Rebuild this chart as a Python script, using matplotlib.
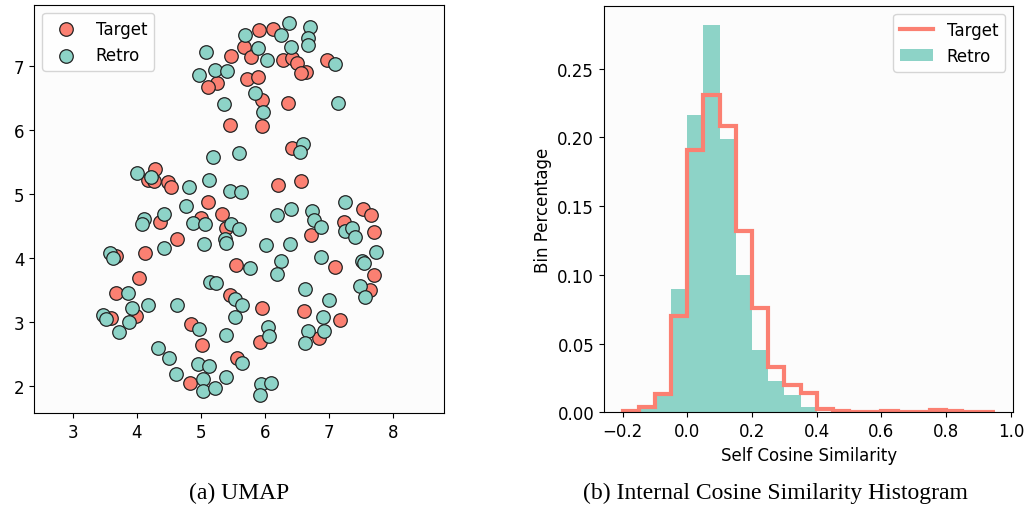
import numpy as np
import matplotlib
matplotlib.use('Agg')
import matplotlib.pyplot as plt

# UMAP coordinates
target_x = [5.48, 5.68, 5.25, 5.12, 5.72, 5.46, 4.29, 4.17, 4.27, 4.49, 4.54, 5.11,
            5.91, 6.13, 5.78, 6.28, 6.43, 6.51, 6.65, 6.57, 6.97, 5.90, 5.95, 5.96,
            6.36, 6.43, 6.21, 6.57, 7.53, 7.66, 5.34, 5.00, 5.40, 4.36, 4.63, 4.13,
            3.67, 5.55, 4.03, 3.68, 5.45, 7.24, 7.71, 6.72, 7.10, 7.71, 7.65, 3.59,
            3.99, 4.85, 5.02, 5.56, 4.83, 6.62, 7.18, 6.85, 5.96, 5.93]
target_y = [7.16, 7.31, 6.74, 6.68, 6.81, 6.09, 5.39, 5.22, 5.21, 5.20, 5.11, 4.88,
            7.57, 7.59, 7.14, 7.10, 7.13, 7.05, 6.91, 6.90, 7.10, 6.84, 6.48, 6.07,
            6.42, 5.73, 5.15, 5.21, 4.77, 4.67, 4.69, 4.63, 4.47, 4.57, 4.30, 4.08,
            4.04, 3.90, 3.70, 3.46, 3.43, 4.57, 4.41, 4.36, 3.86, 3.74, 3.51, 3.06,
            3.10, 2.97, 2.65, 2.44, 2.05, 3.17, 3.03, 2.75, 3.23, 2.69]

retro_x = [5.08, 5.69, 4.98, 5.22, 5.41, 5.37, 5.60, 5.19, 4.00, 4.23, 4.82, 5.13,
           5.45, 5.63, 4.77, 6.38, 6.71, 6.26, 6.68, 6.68, 5.90, 6.41, 6.03, 7.10,
           5.85, 5.98, 7.14, 6.60, 6.55, 7.25, 6.41, 6.74, 4.88, 5.06, 5.47, 5.60,
           4.11, 4.08, 4.43, 4.42, 5.05, 5.38, 5.40, 3.58, 3.63, 5.77, 3.86, 5.15,
           5.24, 5.54, 6.19, 6.77, 6.88, 7.25, 7.36, 7.41, 6.02, 6.40, 6.25, 6.88,
           7.74, 7.52, 7.55, 6.19, 6.63, 7.49, 7.56, 7.00, 3.47, 3.52, 3.92, 3.88,
           3.72, 4.18, 4.63, 4.97, 5.39, 5.65, 5.54, 5.65, 4.34, 4.51, 4.61, 4.95,
           5.13, 5.03, 5.03, 5.22, 5.39, 6.91, 6.92, 6.67, 6.63, 6.05, 6.06, 5.94,
           6.10, 5.93]
retro_y = [7.23, 7.49, 6.86, 6.95, 6.92, 6.41, 5.65, 5.58, 5.33, 5.27, 5.12, 5.22,
           5.05, 5.04, 4.82, 7.68, 7.61, 7.49, 7.45, 7.33, 7.28, 7.31, 7.10, 7.03,
           6.58, 6.28, 6.43, 5.79, 5.66, 4.88, 4.77, 4.74, 4.55, 4.54, 4.54, 4.46,
           4.61, 4.53, 4.70, 4.16, 4.22, 4.30, 4.24, 4.09, 4.00, 3.85, 3.46, 3.63,
           3.61, 3.36, 4.67, 4.60, 4.49, 4.43, 4.47, 4.34, 4.21, 4.22, 3.96, 4.02,
           4.10, 3.96, 3.93, 3.75, 3.52, 3.56, 3.40, 3.35, 3.12, 3.05, 3.22, 3.01,
           2.85, 3.27, 3.27, 2.90, 2.80, 3.27, 3.09, 2.36, 2.60, 2.45, 2.20, 2.35,
           2.32, 2.11, 1.93, 1.98, 2.14, 3.08, 2.86, 2.86, 2.68, 2.92, 2.79, 2.04,
           2.05, 1.87]

# histogram: bins of 0.05 from -0.2 to 0.95
bin_edges = np.round(np.arange(-0.2, 0.951, 0.05), 2)
target_hist = [0.001, 0.004, 0.013, 0.070, 0.191, 0.231, 0.208, 0.132, 0.076, 0.033,
               0.020, 0.014, 0.0024, 0.0012, 0.0005, 0.0005, 0.001, 0.0005, 0.0005,
               0.0015, 0.001, 0.0005, 0.0005]
retro_hist = [0.0, 0.0024, 0.015, 0.090, 0.2165, 0.2817, 0.199, 0.100, 0.045, 0.0228,
              0.0124, 0.0041, 0.0, 0.0, 0.0, 0.0, 0.0, 0.0, 0.0, 0.0, 0.0, 0.0, 0.0]

red = '#fb8072'
teal = '#8dd3c7'

plt.rcParams['font.size'] = 12

fig = plt.figure(figsize=(10.28, 5.10), dpi=100)

# (a) UMAP scatter
ax1 = fig.add_axes([0.0331, 0.1882, 0.3991, 0.8006])
ax1.set_facecolor('#fcfcfc')
ax1.scatter(target_x, target_y, s=95, c=red, edgecolors='#222222', linewidths=0.9, label='Target')
ax1.scatter(retro_x, retro_y, s=95, c=teal, edgecolors='#222222', linewidths=0.9, label='Retro')
ax1.set_xlim(2.395, 8.806)
ax1.set_ylim(1.583, 7.963)
ax1.set_xticks([3, 4, 5, 6, 7, 8])
ax1.set_yticks([2, 3, 4, 5, 6, 7])
ax1.legend(loc='upper left')

# (b) histogram
ax2 = fig.add_axes([0.5875, 0.1896, 0.3982, 0.7973])
ax2.set_facecolor('#fcfcfc')
ax2.stairs(retro_hist, bin_edges, fill=True, color=teal, label='Retro')
ax2.stairs(target_hist, bin_edges, color=red, linewidth=3, label='Target')
ax2.set_xlim(-0.2575, 1.0075)
ax2.set_ylim(0, 0.2958)
ax2.set_xticks([-0.2, 0.0, 0.2, 0.4, 0.6, 0.8, 1.0])
ax2.set_yticks([0.0, 0.05, 0.10, 0.15, 0.20, 0.25])
ax2.yaxis.set_major_formatter(matplotlib.ticker.FormatStrFormatter('%.2f'))
ax2.set_xlabel('Self Cosine Similarity')
ax2.set_ylabel('Bin Percentage')
handles, labels = ax2.get_legend_handles_labels()
line_handle = matplotlib.lines.Line2D([], [], color=red, linewidth=3)
ax2.legend([line_handle, handles[0]], ['Target', 'Retro'], loc='upper right')

fig.text(0.2327, 0.033, '(a) UMAP', ha='center', va='center',
         family='Liberation Serif', fontsize=17)
fig.text(0.7547, 0.033, '(b) Internal Cosine Similarity Histogram', ha='center', va='center',
         family='Liberation Serif', fontsize=17)

fig.savefig('out.png', dpi=100)
